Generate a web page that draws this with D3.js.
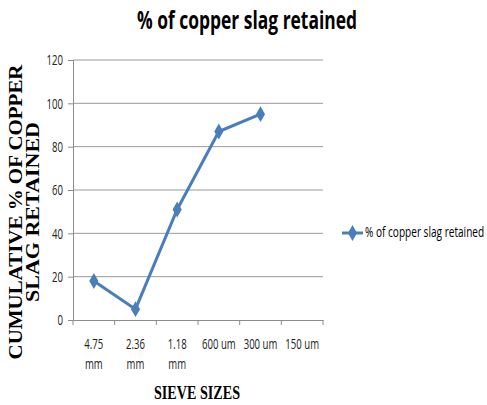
<!DOCTYPE html>
<html>
<head>
<meta charset="utf-8">
<script src="https://cdn.jsdelivr.net/npm/d3@7"></script>
<style>
  body { margin: 0; background: #fff; }
  text { font-family: 'Liberation Sans Narrow', 'Open Sans', sans-serif; }
</style>
</head>
<body>
<div id="chart"></div>
<script>
var sieves = [['4.75', 'mm'], ['2.36', 'mm'], ['1.18', 'mm'], ['600 um'], ['300 um'], ['150 um']];
var sieveKeys = ['4.75 mm', '2.36 mm', '1.18 mm', '600 um', '300 um', '150 um'];
var retained = [18, 5, 51, 87, 95, null];
var yTicks = [0, 20, 40, 60, 80, 100, 120];
var seriesName = '% of copper slag retained';

var margin = {top: 60, left: 73};
var width = 250, height = 260;
var blue = '#4a7ebb', axisCol = '#8c8c8c';
var narrow = 'scale(0.8,1.15)';

var svg = d3.select('#chart').append('svg')
    .attr('width', 487)
    .attr('height', 405);

var graph = svg.append('g')
    .attr('transform', 'translate(' + margin.left + ',' + margin.top + ')');

var yS = d3.scaleLinear().domain([0, 120]).range([height, 0]);
var xS = d3.scaleBand().domain(sieveKeys).range([0, width]);

// gridlines
graph.selectAll('.grid')
    .data(yTicks.slice(1))
    .enter().append('line')
    .attr('x1', 0).attr('x2', width)
    .attr('y1', function (d) { return yS(d); })
    .attr('y2', function (d) { return yS(d); })
    .attr('stroke', '#9a9a9a').attr('stroke-width', 1);

// y axis
var yAx = graph.append('g')
    .call(d3.axisLeft(yS).tickValues(yTicks).tickSize(5).tickPadding(5));
yAx.selectAll('path, line').attr('stroke', axisCol);
yAx.selectAll('text').attr('font-size', 12).attr('fill', '#222')
    .attr('x', -10).attr('dy', '0.35em')
    .attr('transform', 'translate(-10,0) ' + narrow + ' translate(10,0)')
    .style('font-family', "'Liberation Sans Narrow', 'Open Sans', sans-serif");

// x axis
var xAx = graph.append('g')
    .attr('transform', 'translate(0,' + height + ')')
    .call(d3.axisBottom(xS).tickSize(0).tickFormat(''));
xAx.select('path').attr('stroke', axisCol);
graph.append('g').selectAll('line')
    .data(d3.range(sieveKeys.length + 1))
    .enter().append('line')
    .attr('x1', function (i) { return i * xS.step(); })
    .attr('x2', function (i) { return i * xS.step(); })
    .attr('y1', height).attr('y2', height + 5)
    .attr('stroke', axisCol);

var xl = graph.append('g').selectAll('g')
    .data(sieves)
    .enter().append('g')
    .attr('transform', function (d, i) {
        return 'translate(' + (xS(sieveKeys[i]) + xS.bandwidth() / 2) + ',' + (height + 29) + ')';
    })
    .append('text')
    .attr('transform', narrow)
    .attr('text-anchor', 'middle')
    .attr('font-size', 12)
    .attr('fill', '#222');
xl.selectAll('tspan')
    .data(function (d) { return d; })
    .enter().append('tspan')
    .attr('x', 0)
    .attr('dy', function (d, i) { return i === 0 ? 0 : 17; })
    .text(function (d) { return d; });

// series
var pts = retained.map(function (v, i) { return {k: sieveKeys[i], v: v}; })
    .filter(function (d) { return d.v !== null; });
var line = d3.line()
    .x(function (d) { return xS(d.k) + xS.bandwidth() / 2; })
    .y(function (d) { return yS(d.v); });
graph.append('path')
    .datum(pts)
    .attr('d', line)
    .attr('fill', 'none')
    .attr('stroke', blue)
    .attr('stroke-width', 3);
var diamond = d3.symbol().type(d3.symbolDiamond).size(72);
graph.selectAll('.pt')
    .data(pts)
    .enter().append('path')
    .attr('d', diamond)
    .attr('fill', blue)
    .attr('transform', function (d) {
        return 'translate(' + (xS(d.k) + xS.bandwidth() / 2) + ',' + yS(d.v) + ')';
    });

// title
svg.append('text')
    .attr('transform', 'translate(247,29) scale(1,1.2)')
    .attr('text-anchor', 'middle')
    .attr('font-size', 21).attr('font-weight', 'bold')
    .attr('textLength', 220).attr('lengthAdjust', 'spacingAndGlyphs')
    .style('font-family', "'Open Sans', sans-serif")
    .text(seriesName);

// axis titles
var serif = "'Liberation Serif', 'DejaVu Serif', serif";
var yt = svg.append('text')
    .attr('transform', 'translate(22,212) rotate(-90)')
    .attr('text-anchor', 'middle')
    .attr('font-size', 18).attr('font-weight', 'bold')
    .style('font-family', serif);
yt.append('tspan').attr('x', 0).attr('dy', 0)
    .attr('textLength', 295).attr('lengthAdjust', 'spacingAndGlyphs')
    .text('CUMULATIVE % OF COPPER');
yt.append('tspan').attr('x', 0).attr('dy', 17)
    .attr('textLength', 180).attr('lengthAdjust', 'spacingAndGlyphs')
    .text('SLAG RETAINED');

svg.append('text')
    .attr('transform', 'translate(197,399) scale(1,1.15)')
    .attr('text-anchor', 'middle')
    .attr('font-size', 16).attr('font-weight', 'bold')
    .attr('textLength', 86).attr('lengthAdjust', 'spacingAndGlyphs')
    .style('font-family', serif)
    .text('SIEVE SIZES');

// legend
var lg = svg.append('g').attr('transform', 'translate(342,233)');
lg.append('line').attr('x1', 0).attr('x2', 21).attr('y1', 0).attr('y2', 0)
    .attr('stroke', blue).attr('stroke-width', 3);
lg.append('path').attr('d', diamond).attr('fill', blue)
    .attr('transform', 'translate(10.5,0)');
lg.append('text')
    .attr('transform', 'translate(23,4) scale(0.84,1.15)')
    .attr('font-size', 12)
    .text(seriesName);
</script>
</body>
</html>
